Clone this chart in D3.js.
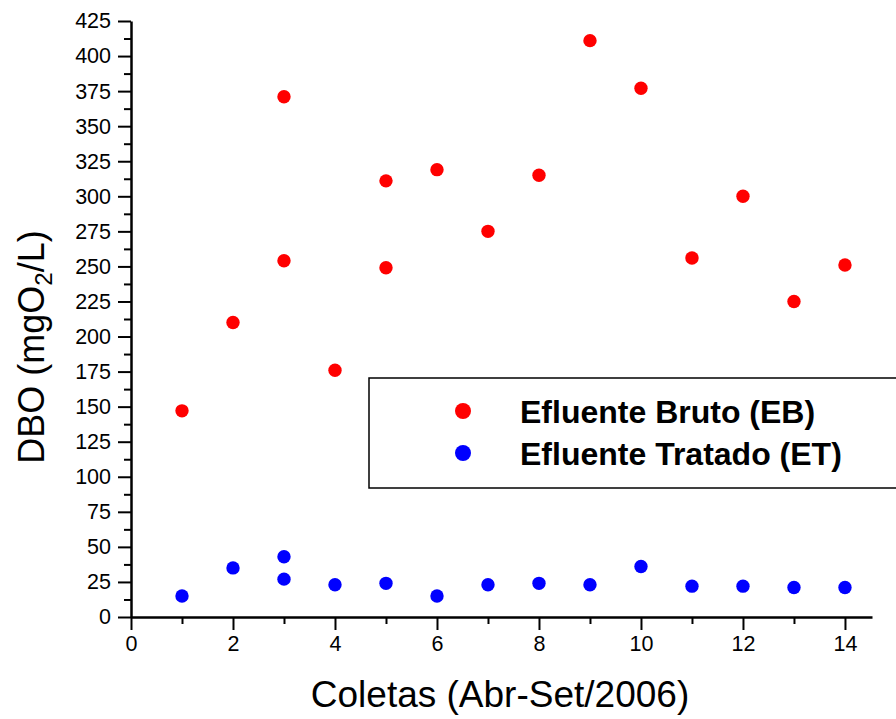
<!DOCTYPE html>
<html>
<head>
<meta charset="utf-8">
<script src="https://cdn.jsdelivr.net/npm/d3@7"></script>
<style>
  body { margin: 0; background: #fff; }
  svg { font-family: "Liberation Sans", Arial, sans-serif; }
</style>
</head>
<body>
<svg id="graph"></svg>
<script>
// coleta number and DBO values (mgO2/L)
var ebColeta = [1, 2, 3, 3, 4, 5, 5, 6, 7, 8, 9, 10, 11, 12, 13, 14];
var ebValues = [147, 210, 371, 254, 176, 311, 249, 319, 275, 315, 411, 377, 256, 300, 225, 251];
var etColeta = [1, 2, 3, 3, 4, 5, 6, 7, 8, 9, 10, 11, 12, 13, 14];
var etValues = [15, 35, 43, 27, 23, 24, 15, 23, 24, 23, 36, 22, 22, 21, 21];
var xTicks = [0, 2, 4, 6, 8, 10, 12, 14];
var xMinor = [1, 3, 5, 7, 9, 11, 13];
var yTicks = d3.range(0, 426, 25);
var yMinor = d3.range(12.5, 425, 25);
var seriesNames = ["Efluente Bruto (EB)", "Efluente Tratado (ET)"];
var seriesColors = ["#ff0000", "#0000ff"];

var svgWidth = 896;
var svgHeight = 719;
var svg = d3.select('#graph')
    .attr("width", svgWidth)
    .attr("height", svgHeight);

var x = d3.scaleLinear().domain([0, 14.53]).range([131, 872]);
var y = d3.scaleLinear().domain([0, 425]).range([617, 21]);

// minor ticks first
svg.append("g")
    .attr("transform", "translate(0,617)")
    .call(d3.axisBottom(x).tickValues(xMinor).tickSize(7).tickFormat(""))
    .call(g => g.select(".domain").remove());
svg.append("g")
    .attr("transform", "translate(131,0)")
    .call(d3.axisLeft(y).tickValues(yMinor).tickSize(7).tickFormat(""))
    .call(g => g.select(".domain").remove());

var xAxis = svg.append("g")
    .attr("transform", "translate(0,617)")
    .call(d3.axisBottom(x).tickValues(xTicks).tickSize(13).tickSizeOuter(0).tickPadding(6));
var yAxis = svg.append("g")
    .attr("transform", "translate(131,0)")
    .call(d3.axisLeft(y).tickValues(yTicks).tickSize(13).tickSizeOuter(0).tickPadding(7));

svg.selectAll(".tick line").attr("stroke", "#000").attr("stroke-width", 2);
svg.selectAll(".domain").attr("stroke", "#000").attr("stroke-width", 2.5);
svg.selectAll(".tick text")
    .attr("font-size", 21.5)
    .attr("font-family", "Liberation Sans, Arial, sans-serif")
    .attr("fill", "#000");

// axis titles
svg.append("text")
    .attr("x", 500)
    .attr("y", 707)
    .attr("text-anchor", "middle")
    .attr("font-size", 37)
    .text("Coletas (Abr-Set/2006)");

var ylab = svg.append("text")
    .attr("transform", "translate(44,347) rotate(-90)")
    .attr("text-anchor", "middle")
    .attr("font-size", 36);
ylab.append("tspan").text("DBO (mgO");
ylab.append("tspan").attr("font-size", 24).attr("dy", 8).text("2");
ylab.append("tspan").attr("dy", -8).text("/L)");

// data points
svg.selectAll("circle.eb")
    .data(ebValues)
    .enter()
    .append("circle")
    .attr("class", "eb")
    .attr("cx", (d, i) => x(ebColeta[i]))
    .attr("cy", d => y(d))
    .attr("r", 6.7)
    .attr("fill", seriesColors[0]);

svg.selectAll("circle.et")
    .data(etValues)
    .enter()
    .append("circle")
    .attr("class", "et")
    .attr("cx", (d, i) => x(etColeta[i]))
    .attr("cy", d => y(d))
    .attr("r", 6.7)
    .attr("fill", seriesColors[1]);

// legend
var legend = svg.append("g");
legend.append("rect")
    .attr("x", 369)
    .attr("y", 378)
    .attr("width", 540)
    .attr("height", 110)
    .attr("fill", "#fff")
    .attr("stroke", "#000")
    .attr("stroke-width", 1.5);

legend.selectAll("circle")
    .data(seriesNames)
    .enter()
    .append("circle")
    .attr("cx", 463)
    .attr("cy", (d, i) => 411 + i * 42)
    .attr("r", 8)
    .attr("fill", (d, i) => seriesColors[i]);

legend.selectAll("text")
    .data(seriesNames)
    .enter()
    .append("text")
    .attr("x", 520)
    .attr("y", (d, i) => 423 + i * 42)
    .attr("font-size", 32)
    .attr("font-weight", "bold")
    .text(d => d);
</script>
</body>
</html>
